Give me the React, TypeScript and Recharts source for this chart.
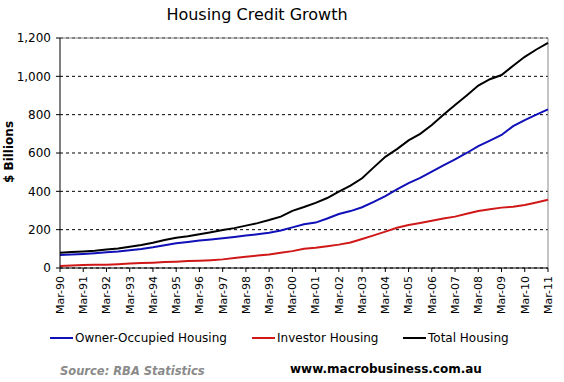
import React from 'react';
import { LineChart, Line, XAxis, YAxis, CartesianGrid, ReferenceLine } from 'recharts';

// tick labels, one per March
const tickLabels = [
  'Mar-90', 'Mar-91', 'Mar-92', 'Mar-93', 'Mar-94', 'Mar-95', 'Mar-96', 'Mar-97',
  'Mar-98', 'Mar-99', 'Mar-00', 'Mar-01', 'Mar-02', 'Mar-03', 'Mar-04', 'Mar-05',
  'Mar-06', 'Mar-07', 'Mar-08', 'Mar-09', 'Mar-10', 'Mar-11',
];

// half-yearly readings (Mar, Sep) in $ billions
const ownerOccupied = [
  68, 70, 73, 77, 82, 86, 92, 99, 108, 119, 129, 136, 143, 149, 155, 162, 169, 176, 184, 196,
  212, 228, 237, 258, 282, 297, 317, 345, 375, 410, 443, 470, 503, 535, 567, 600, 636, 665,
  694, 740, 772, 800, 828,
];
const investor = [
  10, 13, 16, 17, 17, 20, 24, 26, 28, 31, 33, 36, 38, 41, 45, 52, 59, 65, 71, 80,
  88, 100, 106, 114, 122, 133, 151, 170, 190, 210, 224, 235, 247, 258, 268, 283, 297, 307,
  315, 320, 329, 342, 356,
];
const total = [
  80, 83, 86, 90, 96, 102, 111, 120, 132, 146, 158, 166, 176, 187, 198, 208, 221, 234, 250, 268,
  298, 318, 340, 365, 398, 430, 468, 525, 580, 620, 666, 700, 746, 800, 850, 900, 952, 985,
  1007, 1055, 1102, 1140, 1175,
];

const yTicks = [0, 200, 400, 600, 800, 1000, 1200];

const data = total.map((v, i) => ({
  t: i / 2,
  owner: ownerOccupied[i],
  investor: investor[i],
  total: v,
}));

const FONT = '"DejaVu Sans", Verdana, sans-serif';

const XTick = (props: any) => {
  const { x, y, payload } = props;
  return (
    <text
      x={x}
      y={y + 2}
      dy="0.35em"
      textAnchor="end"
      transform={`rotate(-90, ${x}, ${y + 2})`}
      fontSize={11}
      fontFamily={FONT}
      fill="#000"
    >
      {tickLabels[payload.value]}
    </text>
  );
};

const legendItems = [
  { name: 'Owner-Occupied Housing', color: '#1010b8', left: 50 },
  { name: 'Investor Housing', color: '#d01818', left: 252 },
  { name: 'Total Housing', color: '#000', left: 403 },
];

export default function App() {
  return (
    <div style={{ position: 'relative', width: 564, height: 382, background: '#fff', fontFamily: FONT }}>
      <style>{`body{margin:0}`}</style>
      <div style={{ position: 'absolute', left: 0, width: 514, top: 5, textAlign: 'center', fontSize: 16, color: '#000' }}>
        Housing Credit Growth
      </div>
      <div
        style={{
          position: 'absolute', left: 9, top: 152, fontSize: 12, fontWeight: 'bold',
          transform: 'translate(-50%, -50%) rotate(-90deg)', whiteSpace: 'nowrap',
        }}
      >
        $ Billions
      </div>
      <LineChart width={564} height={382} data={data} margin={{ top: 38, right: 16, bottom: 64, left: 0 }}>
        <CartesianGrid vertical={false} stroke="#000" strokeDasharray="3 3" />
        <ReferenceLine y={1200} stroke="#888" strokeWidth={1} />
        <ReferenceLine x={21} stroke="#888" strokeWidth={1} />
        <XAxis
          type="number"
          dataKey="t"
          domain={[0, 21]}
          ticks={tickLabels.map((_, i) => i)}
          interval={0}
          tick={<XTick />}
          tickSize={4}
          height={50}
          stroke="#000"
        />
        <YAxis
          domain={[0, 1200]}
          ticks={yTicks}
          interval={0}
          width={60}
          tickSize={4}
          tickMargin={5}
          tickFormatter={(v: number) => v.toLocaleString('en-US')}
          tick={{ fontSize: 12, fontFamily: FONT, fill: '#000' }}
          stroke="#000"
        />
        <Line type="linear" dataKey="owner" stroke="#1010b8" strokeWidth={2} dot={false} isAnimationActive={false} />
        <Line type="linear" dataKey="investor" stroke="#d01818" strokeWidth={2} dot={false} isAnimationActive={false} />
        <Line type="linear" dataKey="total" stroke="#000" strokeWidth={2} dot={false} isAnimationActive={false} />
      </LineChart>
      {legendItems.map((it) => (
        <div
          key={it.name}
          style={{ position: 'absolute', left: it.left, top: 331, display: 'flex', alignItems: 'center', fontSize: 12, whiteSpace: 'nowrap' }}
        >
          <span style={{ display: 'inline-block', width: 23, height: 2, background: it.color, marginRight: 2 }} />
          {it.name}
        </div>
      ))}
      <div style={{ position: 'absolute', left: 60, top: 364, fontSize: 11.5, fontWeight: 'bold', fontStyle: 'italic', color: '#8a8a8a' }}>
        Source: RBA Statistics
      </div>
      <div style={{ position: 'absolute', left: 290, top: 362, fontSize: 12, fontWeight: 'bold', color: '#000' }}>
        www.macrobusiness.com.au
      </div>
    </div>
  );
}
